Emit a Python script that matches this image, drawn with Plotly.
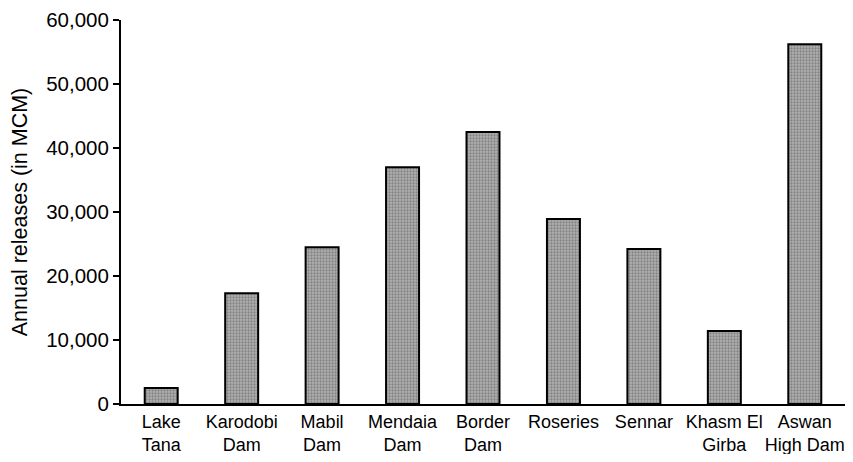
import plotly.graph_objects as go

categories = ["Lake<br>Tana", "Karodobi<br>Dam", "Mabil<br>Dam", "Mendaia<br>Dam", "Border<br>Dam",
              "Roseries", "Sennar", "Khasm El<br>Girba", "Aswan<br>High Dam"]
releases = [2500, 17300, 24500, 37000, 42500, 28900, 24200, 11400, 56200]
y_ticks = [0, 10000, 20000, 30000, 40000, 50000, 60000]
y_tick_labels = ["0", "10,000", "20,000", "30,000", "40,000", "50,000", "60,000"]

fig = go.Figure(go.Bar(
    x=categories, y=releases,
    marker=dict(
        color="#959595",
        line=dict(color="black", width=2),
        pattern=dict(shape=".", fgcolor="#555555", bgcolor="#b0b0b0", size=3, solidity=0.45),
    ),
    width=0.41,
))

font = "Liberation Sans, Arial, sans-serif"
# page body has an 8px default margin, so the figure is sized to fit inside the window
fig.update_layout(
    width=837, height=446,
    margin=dict(l=113, r=0, t=12, b=50),
    paper_bgcolor="white", plot_bgcolor="white",
    showlegend=False,
    font=dict(family=font, color="black"),
    xaxis=dict(
        automargin=False,
        showline=True, linecolor="black", linewidth=2,
        ticks="", tickangle=0, tickfont=dict(size=18, family=font, color="black"),
        showgrid=False,
    ),
    yaxis=dict(
        automargin=False,
        range=[0, 60000], tickvals=y_ticks, ticktext=y_tick_labels,
        showline=True, linecolor="black", linewidth=2,
        ticks="outside", ticklen=6, tickwidth=2, tickcolor="black",
        tickfont=dict(size=20.5, family=font, color="black"),
        showgrid=False, zeroline=False,
        title=dict(text="Annual releases (in MCM)", font=dict(size=21.5, family=font, color="black"), standoff=14),
    ),
)

fig.write_html("out.html")
